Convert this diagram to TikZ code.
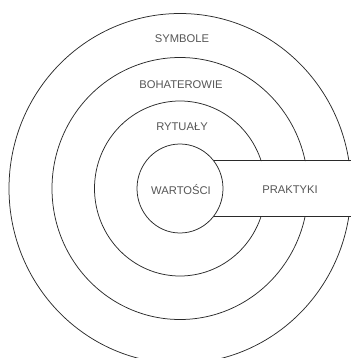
\documentclass[tikz,border=0pt]{standalone}
\usepackage{fontspec}
\setmainfont{Liberation Sans}
\usetikzlibrary{shapes.geometric}
\definecolor{linec}{HTML}{2A2A2A}
\definecolor{textc}{HTML}{555555}
\tikzset{
  ring/.style={draw=linec, line width=0.75pt, ellipse, inner sep=0pt},
  lbl/.style={text=textc, font=\fontsize{11.2}{13}\selectfont, inner sep=0pt},
  bandline/.style={draw=linec, line width=0.9pt}
}
\begin{document}
\begin{tikzpicture}[x=1pt,y=-1pt]
\useasboundingbox (0,0) rectangle (351,358);
\begin{scope}[even odd rule]
  \clip (-10,-10) rectangle (361,368) (200,161) rectangle (380,216);
  \node[ring, minimum width=342pt, minimum height=350pt] (sym) at (180,188.5) {};
  \node[ring, minimum width=256pt, minimum height=262pt] (boh) at (180,188.5) {};
  \node[ring, minimum width=171pt, minimum height=175pt] (ryt) at (180,188.5) {};
\end{scope}
\node[ring, minimum width=86pt, minimum height=89pt] (val) at (180,188.5) {};
\coordinate (rt) at (351,161);
\coordinate (rb) at (351,216);
\draw[bandline] (val.39) -- (val.39 -| rt);
\draw[bandline] (val.-39) -- (val.-39 -| rb);
\node[lbl] (tsym) at (182,38.5) {SYMBOLE};
\node[lbl] (tboh) at (181,85) {BOHATEROWIE};
\node[lbl] (tryt) at (182,127) {RYTUAŁY};
\node[lbl] (tval) at (181,190) {WARTOŚCI};
\node[lbl] (tpra) at (290,190) {PRAKTYKI};
\end{tikzpicture}
\end{document}
